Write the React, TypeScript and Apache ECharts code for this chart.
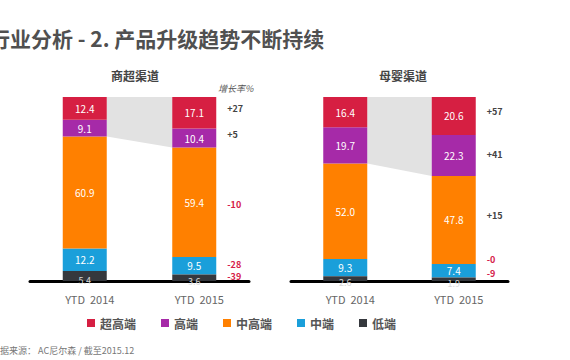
import React, { useEffect, useRef } from "react";
import * as echarts from "echarts";

// Data (top-to-bottom order of segments)
const segmentNames = ["超高端", "高端", "中高端", "中端", "低端"];
const years = ["YTD  2014", "YTD  2015"];
const superData = [
  [12.4, 17.1],
  [9.1, 10.4],
  [60.9, 59.4],
  [12.2, 9.5],
  [5.4, 3.6],
];
const babyData = [
  [16.4, 20.6],
  [19.7, 22.3],
  [52.0, 47.8],
  [9.3, 7.4],
  [2.6, 1.9],
];
const superGrowth = ["+27", "+5", "-10", "-28", "-39"];
const babyGrowth = ["+57", "+41", "+15", "-0", "-9"];
const panelTitles = ["商超渠道", "母婴渠道"];
const chartTitle = "行业分析 - 2. 产品升级趋势不断持续";
const sourceText = "据来源： AC尼尔森 / 截至2015.12";
const growthHeader = "增长率%";

const colors = ["#d61f42", "#a62aa8", "#ff8000", "#1a9fda", "#35383d"];
const labelOffsets = [
  [-4, -4, 2, -1, -1],
  [-4, -1, -4, -11, -6],
];
const FONT = "'Noto Sans CJK SC', 'Noto Sans', sans-serif";
const BAR_W = 44;

export default function App() {
  const ref = useRef<HTMLDivElement>(null);
  useEffect(() => {
    document.body.style.margin = "0";
    const chart = echarts.init(ref.current!, null, { renderer: "svg" });
    const panels = [superData, babyData];
    const growths = [superGrowth, babyGrowth];

    const series: any[] = [];
    panels.forEach((data, p) => {
      // bars bottom to top
      for (let i = segmentNames.length - 1; i >= 0; i--) {
        const isDark = i === 4;
        series.push({
          type: "bar",
          name: segmentNames[i],
          stack: "s" + p,
          xAxisIndex: p,
          yAxisIndex: p,
          barWidth: BAR_W,
          itemStyle: { color: colors[i] },
          label: {
            show: true,
            position: "inside",
            color: isDark ? "#d8d8d8" : "#ffffff",
            fontSize: isDark ? 9 : 10,
            offset: isDark ? [0, 4] : [0, 0],
            fontFamily: FONT,
            formatter: (pr: any) => Number(pr.value).toFixed(1),
          },
          data: data[i],
          z: isDark ? 6 : 3,
        });
      }
      // grey connector between top two segments
      const bottom0 = 100 - data[0][0] - data[1][0];
      const bottom1 = 100 - data[0][1] - data[1][1];
      series.push({
        type: "custom",
        xAxisIndex: p,
        yAxisIndex: p,
        silent: true,
        z: 1,
        data: [[bottom0, bottom1]],
        renderItem: (params: any, api: any) => {
          const b0 = api.value(0);
          const b1 = api.value(1);
          const a = api.coord([0, 100]);
          const b = api.coord([1, 100]);
          const c = api.coord([1, b1]);
          const d = api.coord([0, b0]);
          const h = BAR_W / 2;
          return {
            type: "polygon",
            shape: {
              points: [
                [a[0] + h, a[1]],
                [b[0] - h, b[1]],
                [c[0] - h, c[1]],
                [d[0] + h, d[1]],
              ],
            },
            style: { fill: "#e2e2e2" },
          };
        },
      });
      // growth labels
      const mids: number[] = [];
      let top = 100;
      for (let i = 0; i < data.length; i++) {
        mids.push(top - data[i][1] / 2);
        top -= data[i][1];
      }
      series.push({
        type: "custom",
        xAxisIndex: p,
        yAxisIndex: p,
        silent: true,
        z: 4,
        data: mids.map((m, i) => [i, m]),
        renderItem: (params: any, api: any) => {
          const idx = api.value(0);
          const pt = api.coord([1, api.value(1)]);
          const txt = growths[p][idx];
          const neg = txt.charAt(0) === "-";
          return {
            type: "text",
            x: pt[0] + BAR_W / 2 + 11,
            y: pt[1] + labelOffsets[p][idx],
            style: {
              text: txt,
              fill: neg ? "#d6204a" : "#444444",
              fontSize: 9,
              fontWeight: "bold",
              fontFamily: FONT,
              verticalAlign: "middle",
              align: "left",
            },
          };
        },
      });
    });

    const grids = [
      { left: 30, width: 219, top: 97, bottom: 79 },
      { left: 291, width: 217, top: 97, bottom: 79 },
    ];

    chart.setOption({
      animation: false,
      grid: grids,
      legend: {
        data: segmentNames,
        top: 312,
        left: 82,
        icon: "rect",
        itemWidth: 8,
        itemHeight: 8,
        itemGap: 25,
        textStyle: { fontSize: 12, color: "#555", fontFamily: FONT, fontWeight: "bold" },
      },
      xAxis: [0, 1].map((i) => ({
        type: "category",
        gridIndex: i,
        data: years,
        axisLine: { lineStyle: { color: "#000", width: 3 } },
        axisTick: { show: false },
        axisLabel: {
          color: "#666",
          fontSize: 11,
          fontFamily: FONT,
          margin: 12,
          padding: [0, 0, 0, 10],
        },
        z: 5,
      })),
      yAxis: [0, 1].map((i) => ({
        type: "value",
        gridIndex: i,
        min: 0,
        max: 100,
        show: false,
        splitLine: { show: false },
      })),
      graphic: [
        {
          type: "text",
          x: -11,
          y: 38,
          style: {
            text: chartTitle,
            fontSize: 21,
            fontWeight: "bold",
            fill: "#505050",
            fontFamily: FONT,
            verticalAlign: "middle",
          },
        },
        {
          type: "text",
          x: 135,
          y: 75,
          style: {
            text: panelTitles[0],
            fontSize: 12,
            fontWeight: "bold",
            fill: "#444",
            fontFamily: FONT,
            align: "center",
            verticalAlign: "middle",
          },
        },
        {
          type: "text",
          x: 403,
          y: 75,
          style: {
            text: panelTitles[1],
            fontSize: 12,
            fontWeight: "bold",
            fill: "#444",
            fontFamily: FONT,
            align: "center",
            verticalAlign: "middle",
          },
        },
        {
          type: "text",
          x: 218,
          y: 88,
          style: {
            text: growthHeader,
            fontSize: 9,
            fontStyle: "italic",
            fill: "#555",
            fontFamily: FONT,
            verticalAlign: "middle",
          },
        },
        {
          type: "text",
          x: 0,
          y: 350,
          style: {
            text: sourceText,
            fontSize: 9,
            fill: "#777",
            fontFamily: FONT,
            verticalAlign: "middle",
          },
        },
      ],
      series,
    });
    return () => chart.dispose();
  }, []);
  return <div ref={ref} style={{ width: 570, height: 360, background: "#fff" }} />;
}
